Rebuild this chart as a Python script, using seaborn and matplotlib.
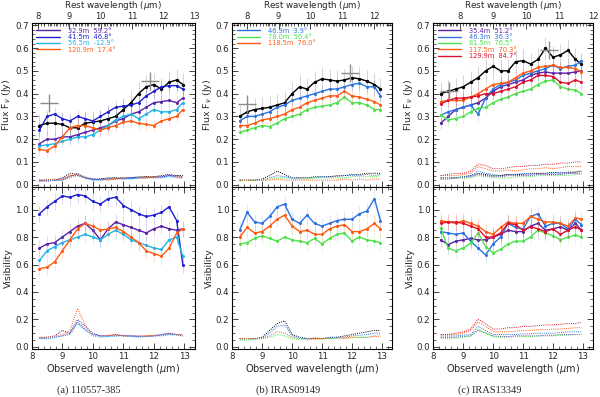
import matplotlib
matplotlib.use("Agg")
import matplotlib.pyplot as plt
import seaborn as sns
from matplotlib.lines import Line2D
from matplotlib.ticker import MultipleLocator

# observed wavelength grid (micron), shared by all panels
wl = [8.25, 8.5, 8.75, 9.0, 9.25, 9.5, 9.75, 10.0, 10.25, 10.5,
      10.75, 11.0, 11.25, 11.5, 11.75, 12.0, 12.25, 12.5, 12.75, 12.95]

# ---------------- panel (a) ----------------
a_flux_black = [0.26, 0.27, 0.27, 0.265, 0.25, 0.25, 0.27, 0.275, 0.28, 0.29,
                0.30, 0.33, 0.36, 0.40, 0.43, 0.44, 0.42, 0.45, 0.46, 0.44]
a_flux_purple = [0.18, 0.20, 0.20, 0.21, 0.21, 0.22, 0.23, 0.24, 0.25, 0.26,
                 0.28, 0.29, 0.31, 0.32, 0.34, 0.36, 0.365, 0.37, 0.36, 0.38]
a_flux_blue = [0.24, 0.30, 0.31, 0.29, 0.28, 0.30, 0.29, 0.28, 0.30, 0.32,
               0.34, 0.345, 0.35, 0.36, 0.39, 0.41, 0.43, 0.435, 0.435, 0.42]
a_flux_cyan = [0.17, 0.175, 0.18, 0.19, 0.20, 0.21, 0.21, 0.22, 0.24, 0.26,
               0.285, 0.30, 0.31, 0.29, 0.31, 0.33, 0.32, 0.32, 0.33, 0.36]
a_flux_orange = [0.155, 0.15, 0.17, 0.21, 0.25, 0.26, 0.26, 0.25, 0.24, 0.25,
                 0.26, 0.275, 0.28, 0.27, 0.265, 0.26, 0.28, 0.29, 0.30, 0.33]
a_fnoise_black = [0.02, 0.02, 0.02, 0.03, 0.05, 0.045, 0.03, 0.025, 0.025, 0.03,
                  0.03, 0.03, 0.03, 0.035, 0.035, 0.035, 0.04, 0.045, 0.04, 0.04]
a_fnoise_purple = [0.015, 0.02, 0.02, 0.025, 0.04, 0.04, 0.03, 0.02, 0.025, 0.025,
                   0.025, 0.03, 0.03, 0.03, 0.03, 0.035, 0.035, 0.04, 0.035, 0.03]
a_fnoise_blue = [0.02, 0.015, 0.02, 0.02, 0.035, 0.05, 0.03, 0.025, 0.02, 0.025,
                 0.03, 0.025, 0.03, 0.03, 0.035, 0.03, 0.035, 0.04, 0.04, 0.035]
a_fnoise_cyan = [0.015, 0.02, 0.02, 0.02, 0.03, 0.04, 0.03, 0.02, 0.02, 0.025,
                 0.025, 0.025, 0.025, 0.03, 0.03, 0.03, 0.03, 0.035, 0.03, 0.03]
a_fnoise_orange = [0.02, 0.02, 0.025, 0.02, 0.04, 0.045, 0.035, 0.025, 0.025, 0.02,
                   0.025, 0.03, 0.025, 0.03, 0.03, 0.035, 0.03, 0.04, 0.035, 0.03]
a_vis_purple = [0.72, 0.75, 0.76, 0.80, 0.84, 0.88, 0.90, 0.85, 0.78, 0.86,
                0.91, 0.89, 0.87, 0.85, 0.83, 0.86, 0.88, 0.86, 0.85, 0.86]
a_vis_blue = [0.97, 1.02, 1.06, 1.10, 1.09, 1.11, 1.10, 1.06, 1.04, 1.08,
              1.09, 1.03, 1.00, 0.97, 0.95, 0.96, 0.98, 1.02, 0.92, 0.60]
a_vis_cyan = [0.63, 0.70, 0.73, 0.76, 0.78, 0.80, 0.82, 0.80, 0.78, 0.82,
              0.85, 0.82, 0.78, 0.76, 0.74, 0.72, 0.71, 0.78, 0.80, 0.66]
a_vis_orange = [0.57, 0.58, 0.62, 0.70, 0.78, 0.86, 0.90, 0.88, 0.85, 0.86,
                0.87, 0.84, 0.80, 0.76, 0.70, 0.68, 0.66, 0.72, 0.83, 0.86]
a_vnoise_purple = [0.07, 0.06, 0.07, 0.08, 0.10, 0.18, 0.13, 0.09, 0.08, 0.08,
                   0.08, 0.085, 0.08, 0.08, 0.075, 0.08, 0.085, 0.09, 0.09, 0.08]
a_vnoise_blue = [0.06, 0.07, 0.08, 0.12, 0.10, 0.20, 0.15, 0.10, 0.08, 0.08,
                 0.09, 0.08, 0.08, 0.075, 0.08, 0.08, 0.09, 0.10, 0.09, 0.09]
a_vnoise_cyan = [0.06, 0.06, 0.07, 0.08, 0.09, 0.17, 0.12, 0.08, 0.07, 0.075,
                 0.08, 0.08, 0.075, 0.07, 0.075, 0.08, 0.08, 0.09, 0.085, 0.08]
a_vnoise_orange = [0.07, 0.07, 0.08, 0.09, 0.12, 0.28, 0.16, 0.09, 0.08, 0.085,
                   0.09, 0.08, 0.08, 0.08, 0.08, 0.085, 0.09, 0.10, 0.09, 0.08]
a_labels = ["32.9m  59.2°", "41.5m  46.8°", "56.5m  -12.9°", "120.9m  17.4°"]
a_cross_wl = [8.58, 11.89]
a_cross_flux = [0.358, 0.455]

# ---------------- panel (b) ----------------
b_flux_black = [0.30, 0.32, 0.33, 0.335, 0.34, 0.35, 0.36, 0.40, 0.43, 0.42,
                0.45, 0.465, 0.46, 0.455, 0.46, 0.47, 0.465, 0.455, 0.44, 0.42]
b_flux_blue = [0.28, 0.30, 0.30, 0.31, 0.32, 0.34, 0.35, 0.37, 0.38, 0.39,
               0.40, 0.41, 0.42, 0.42, 0.43, 0.44, 0.445, 0.43, 0.43, 0.39]
b_flux_green = [0.23, 0.24, 0.25, 0.26, 0.255, 0.27, 0.29, 0.30, 0.31, 0.33,
                0.34, 0.345, 0.35, 0.36, 0.385, 0.36, 0.36, 0.35, 0.33, 0.33]
b_flux_orange = [0.26, 0.26, 0.27, 0.285, 0.29, 0.30, 0.31, 0.33, 0.34, 0.36,
                 0.37, 0.38, 0.39, 0.39, 0.41, 0.39, 0.385, 0.375, 0.365, 0.35]
b_fnoise_black = [0.02, 0.02, 0.02, 0.025, 0.04, 0.06, 0.045, 0.03, 0.03, 0.03,
                  0.035, 0.035, 0.035, 0.04, 0.04, 0.045, 0.045, 0.05, 0.05, 0.05]
b_fnoise_blue = [0.02, 0.02, 0.02, 0.02, 0.03, 0.04, 0.035, 0.03, 0.03, 0.03,
                 0.03, 0.035, 0.035, 0.035, 0.04, 0.04, 0.04, 0.045, 0.04, 0.045]
b_fnoise_green = [0.015, 0.02, 0.02, 0.02, 0.025, 0.03, 0.03, 0.025, 0.025, 0.025,
                  0.03, 0.03, 0.03, 0.03, 0.03, 0.035, 0.035, 0.035, 0.035, 0.04]
b_fnoise_orange = [0.02, 0.02, 0.02, 0.02, 0.02, 0.025, 0.02, 0.02, 0.02, 0.02,
                   0.02, 0.02, 0.02, 0.02, 0.025, 0.02, 0.025, 0.02, 0.025, 0.025]
b_vis_blue = [0.85, 0.98, 0.91, 0.90, 0.95, 1.02, 1.04, 0.93, 0.90, 0.96,
              0.90, 0.88, 0.90, 0.92, 0.93, 0.93, 0.97, 0.99, 1.08, 0.92]
b_vis_green = [0.75, 0.76, 0.79, 0.81, 0.79, 0.77, 0.80, 0.78, 0.77, 0.76,
               0.79, 0.75, 0.79, 0.82, 0.83, 0.77, 0.80, 0.78, 0.77, 0.76]
b_vis_orange = [0.80, 0.87, 0.83, 0.84, 0.88, 0.93, 0.96, 0.88, 0.84, 0.85,
                0.82, 0.82, 0.86, 0.88, 0.89, 0.84, 0.84, 0.86, 0.90, 0.86]
b_vnoise_black = [0.06, 0.06, 0.06, 0.07, 0.12, 0.17, 0.19, 0.09, 0.07, 0.06,
                  0.065, 0.06, 0.07, 0.07, 0.08, 0.09, 0.10, 0.11, 0.12, 0.12]
b_vnoise_blue = [0.06, 0.06, 0.06, 0.065, 0.10, 0.15, 0.16, 0.08, 0.07, 0.06,
                 0.06, 0.06, 0.065, 0.07, 0.07, 0.08, 0.085, 0.09, 0.10, 0.10]
b_vnoise_green = [0.05, 0.05, 0.055, 0.06, 0.07, 0.09, 0.08, 0.06, 0.055, 0.05,
                  0.055, 0.06, 0.06, 0.06, 0.06, 0.065, 0.07, 0.07, 0.08, 0.09]
b_vnoise_orange = [0.06, 0.06, 0.06, 0.06, 0.08, 0.11, 0.10, 0.07, 0.06, 0.06,
                   0.06, 0.06, 0.06, 0.065, 0.065, 0.07, 0.07, 0.07, 0.075, 0.075]
b_labels = ["46.9m  3.9°", "78.0m  56.4°", "118.5m  76.0°"]
b_cross_wl = [8.5, 11.93]
b_cross_flux = [0.355, 0.49]

# ---------------- panel (c) ----------------
c_flux_black = [0.40, 0.41, 0.42, 0.43, 0.45, 0.47, 0.50, 0.52, 0.50, 0.50,
                0.54, 0.545, 0.53, 0.55, 0.60, 0.56, 0.57, 0.59, 0.55, 0.53]
c_flux_purple = [0.27, 0.30, 0.33, 0.34, 0.35, 0.36, 0.38, 0.41, 0.43, 0.44,
                 0.45, 0.46, 0.48, 0.49, 0.495, 0.49, 0.49, 0.49, 0.495, 0.50]
c_flux_blue = [0.305, 0.32, 0.33, 0.34, 0.35, 0.31, 0.38, 0.42, 0.44, 0.45,
               0.46, 0.48, 0.49, 0.50, 0.51, 0.525, 0.51, 0.52, 0.525, 0.545]
c_flux_green = [0.305, 0.285, 0.29, 0.30, 0.32, 0.335, 0.34, 0.36, 0.375, 0.385,
                0.40, 0.41, 0.42, 0.44, 0.455, 0.46, 0.43, 0.42, 0.415, 0.40]
c_flux_orange = [0.365, 0.37, 0.37, 0.37, 0.385, 0.40, 0.42, 0.44, 0.445, 0.45,
                 0.47, 0.49, 0.50, 0.515, 0.52, 0.525, 0.515, 0.515, 0.51, 0.495]
c_flux_red = [0.355, 0.37, 0.38, 0.38, 0.385, 0.39, 0.40, 0.40, 0.41, 0.42,
              0.43, 0.45, 0.46, 0.48, 0.48, 0.475, 0.45, 0.445, 0.46, 0.45]
c_fnoise_black = [0.03, 0.03, 0.03, 0.035, 0.04, 0.05, 0.045, 0.04, 0.04, 0.045,
                  0.045, 0.045, 0.05, 0.05, 0.05, 0.055, 0.05, 0.055, 0.055, 0.06]
c_fnoise_purple = [0.025, 0.025, 0.03, 0.03, 0.035, 0.045, 0.04, 0.035, 0.035, 0.04,
                   0.04, 0.04, 0.04, 0.045, 0.045, 0.045, 0.045, 0.05, 0.05, 0.05]
c_fnoise_blue = [0.03, 0.03, 0.03, 0.035, 0.04, 0.06, 0.05, 0.045, 0.04, 0.045,
                 0.045, 0.05, 0.045, 0.05, 0.05, 0.05, 0.055, 0.05, 0.055, 0.06]
c_fnoise_green = [0.025, 0.03, 0.03, 0.03, 0.03, 0.04, 0.035, 0.03, 0.03, 0.03,
                  0.035, 0.035, 0.035, 0.04, 0.04, 0.04, 0.04, 0.04, 0.045, 0.045]
c_fnoise_orange = [0.04, 0.04, 0.04, 0.045, 0.05, 0.08, 0.07, 0.06, 0.06, 0.065,
                   0.06, 0.065, 0.07, 0.07, 0.075, 0.07, 0.075, 0.08, 0.08, 0.08]
c_fnoise_red = [0.04, 0.045, 0.05, 0.05, 0.06, 0.09, 0.085, 0.07, 0.07, 0.075,
                0.08, 0.08, 0.085, 0.085, 0.09, 0.09, 0.095, 0.095, 0.10, 0.10]
c_vis_purple = [0.78, 0.745, 0.77, 0.78, 0.79, 0.78, 0.78, 0.80, 0.82, 0.85,
                0.84, 0.84, 0.88, 0.90, 0.85, 0.86, 0.875, 0.85, 0.90, 0.85]
c_vis_blue = [0.84, 0.83, 0.82, 0.83, 0.77, 0.72, 0.67, 0.75, 0.80, 0.90,
              0.87, 0.86, 0.95, 0.97, 0.88, 0.90, 0.90, 0.86, 0.93, 0.89]
c_vis_green = [0.865, 0.72, 0.70, 0.72, 0.755, 0.83, 0.73, 0.685, 0.71, 0.75,
               0.77, 0.77, 0.80, 0.85, 0.83, 0.81, 0.78, 0.80, 0.815, 0.80]
c_vis_orange = [0.92, 0.91, 0.90, 0.92, 0.90, 0.88, 0.84, 0.82, 0.87, 0.91,
                0.90, 0.90, 0.95, 0.93, 0.91, 0.91, 0.90, 0.88, 0.94, 0.93]
c_vis_red = [0.90, 0.91, 0.91, 0.90, 0.88, 0.86, 0.80, 0.80, 0.83, 0.90,
             0.89, 0.85, 0.875, 0.86, 0.84, 0.86, 0.82, 0.85, 0.875, 0.85]
c_vnoise_purple = [0.07, 0.07, 0.07, 0.075, 0.08, 0.12, 0.10, 0.08, 0.075, 0.075,
                   0.08, 0.08, 0.08, 0.08, 0.085, 0.085, 0.09, 0.09, 0.09, 0.09]
c_vnoise_blue = [0.08, 0.08, 0.08, 0.085, 0.09, 0.15, 0.12, 0.09, 0.09, 0.09,
                 0.09, 0.095, 0.095, 0.10, 0.10, 0.10, 0.105, 0.11, 0.11, 0.11]
c_vnoise_green = [0.06, 0.06, 0.065, 0.07, 0.08, 0.13, 0.10, 0.075, 0.07, 0.07,
                  0.075, 0.075, 0.075, 0.08, 0.08, 0.08, 0.085, 0.085, 0.09, 0.09]
c_vnoise_orange = [0.09, 0.09, 0.09, 0.10, 0.12, 0.18, 0.15, 0.11, 0.11, 0.11,
                   0.115, 0.12, 0.12, 0.125, 0.125, 0.13, 0.13, 0.135, 0.14, 0.14]
c_vnoise_red = [0.09, 0.09, 0.10, 0.11, 0.13, 0.20, 0.17, 0.13, 0.13, 0.14,
                0.14, 0.15, 0.15, 0.155, 0.16, 0.16, 0.165, 0.17, 0.17, 0.18]
c_labels = ["35.4m  51.2°", "46.3m  36.3°", "81.5m  76.5°", "117.5m  70.3°", "129.9m  84.7°"]
c_cross_wl = [8.53, 11.87]
c_cross_flux = [0.41, 0.59]

PURPLE = "#5b22a8"
DBLUE = "#1f1fd0"
CYAN = "#22b4e6"
ORANGE = "#ff5a14"
BLUE = "#2a72e0"
GREEN = "#4ee24e"
RED = "#e0102c"

panels = [
    dict(left=0.053, width=0.272, z1=1.026, rest_ticks=[8, 9, 10, 11, 12, 13],
         caption="(a) 110557-385",
         black=(a_flux_black, a_fnoise_black),
         series=[(PURPLE, a_flux_purple, a_fnoise_purple, a_vis_purple, a_vnoise_purple),
                 (DBLUE, a_flux_blue, a_fnoise_blue, a_vis_blue, a_vnoise_blue),
                 (CYAN, a_flux_cyan, a_fnoise_cyan, a_vis_cyan, a_vnoise_cyan),
                 (ORANGE, a_flux_orange, a_fnoise_orange, a_vis_orange, a_vnoise_orange)],
         vis_black=None, labels=a_labels, cross=(a_cross_wl, a_cross_flux)),
    dict(left=0.387, width=0.267, z1=1.061, rest_ticks=[8, 9, 10, 11, 12],
         caption="(b) IRAS09149",
         black=(b_flux_black, b_fnoise_black),
         series=[(BLUE, b_flux_blue, b_fnoise_blue, b_vis_blue, b_vnoise_blue),
                 (GREEN, b_flux_green, b_fnoise_green, b_vis_green, b_vnoise_green),
                 (ORANGE, b_flux_orange, b_fnoise_orange, b_vis_orange, b_vnoise_orange)],
         vis_black=b_vnoise_black, labels=b_labels, cross=(b_cross_wl, b_cross_flux)),
    dict(left=0.722, width=0.267, z1=1.111, rest_ticks=[8, 9, 10, 11, 12],
         caption="(c) IRAS13349",
         black=(c_flux_black, c_fnoise_black),
         series=[(PURPLE, c_flux_purple, c_fnoise_purple, c_vis_purple, c_vnoise_purple),
                 (BLUE, c_flux_blue, c_fnoise_blue, c_vis_blue, c_vnoise_blue),
                 (GREEN, c_flux_green, c_fnoise_green, c_vis_green, c_vnoise_green),
                 (ORANGE, c_flux_orange, c_fnoise_orange, c_vis_orange, c_vnoise_orange),
                 (RED, c_flux_red, c_fnoise_red, c_vis_red, c_vnoise_red)],
         vis_black=None, labels=c_labels, cross=(c_cross_wl, c_cross_flux)),
]

sns.set_style("ticks")
plt.rcParams["font.family"] = ["DejaVu Sans"]
plt.rcParams["xtick.direction"] = "in"
plt.rcParams["ytick.direction"] = "in"

fig = plt.figure(figsize=(6, 3.97), dpi=100)


def curve(ax, y, color, err, ms=2.2, lw=1.0):
    # faint error bars then the dotted-looking curve
    ax.errorbar(wl, y, yerr=err, fmt="none", ecolor=color, alpha=0.2, lw=0.6)
    sns.lineplot(x=wl, y=y, ax=ax, color=color, lw=lw, marker="o",
                 markersize=ms, markeredgewidth=0, legend=False)


def noise(ax, y, color):
    sns.lineplot(x=wl, y=y, ax=ax, color=color, lw=0.7, linestyle=(0, (1, 1.2)), legend=False)


def style(ax, ymajor, yminor):
    ax.set_xlim(8, 13.35)
    ax.xaxis.set_major_locator(MultipleLocator(1))
    ax.xaxis.set_minor_locator(MultipleLocator(0.2))
    ax.yaxis.set_major_locator(MultipleLocator(ymajor))
    ax.yaxis.set_minor_locator(MultipleLocator(yminor))
    ax.tick_params(which="both", top=True, right=True, labelsize=6.2, pad=2)
    ax.tick_params(which="major", length=4, width=0.6)
    ax.tick_params(which="minor", length=2, width=0.5)
    for s in ax.spines.values():
        s.set_linewidth(0.8)
        s.set_color("black")


for p in panels:
    axf = fig.add_axes([p["left"], 0.529, p["width"], 0.413])
    axv = fig.add_axes([p["left"], 0.121, p["width"], 0.408])

    # flux panel
    flux_black, fnoise_black = p["black"]
    curve(axf, flux_black, "black", 0.05, ms=2.4)
    for color, flux, fnoise, vis, vnoise in p["series"]:
        curve(axf, flux, color, 0.03)
    noise(axf, fnoise_black, "black")
    for color, flux, fnoise, vis, vnoise in p["series"]:
        noise(axf, fnoise, color)
    axf.plot(p["cross"][0], p["cross"][1], linestyle="none", marker="+",
             markersize=13, markeredgewidth=1.0, color="#8c8c8c")
    style(axf, 0.1, 0.02)
    axf.set_ylim(-0.01, 0.71)
    axf.tick_params(labelbottom=False, top=False)
    axf.set_ylabel("Flux F$_\\nu$ (Jy)", fontsize=6.8)
    axf.yaxis.set_label_coords(-0.115, 0.5)
    axf.set_xlabel("")

    z1 = p["z1"]
    sec = axf.secondary_xaxis("top", functions=(lambda x, z1=z1: x / z1,
                                                lambda x, z1=z1: x * z1))
    sec.set_xticks(p["rest_ticks"])
    sec.xaxis.set_minor_locator(MultipleLocator(0.1))
    sec.tick_params(which="both", direction="in", labelsize=6, pad=1.5)
    sec.tick_params(which="major", length=4, width=0.6)
    sec.tick_params(which="minor", length=2, width=0.5)
    fig.text(p["left"] + p["width"] / 2, 1 - 5 / 397, "Rest wavelength ($\\mu$m)",
             ha="center", va="center", fontsize=6.3)

    handles = [Line2D([0], [0], color=s[0], lw=1.0) for s in p["series"]]
    axf.legend(handles, p["labels"], loc="upper left", fontsize=4.8, frameon=False,
               handlelength=3.5, handletextpad=1.2, labelspacing=0.05,
               borderaxespad=0.3, labelcolor="linecolor")

    # visibility panel
    for color, flux, fnoise, vis, vnoise in p["series"]:
        curve(axv, vis, color, 0.06)
    if p["vis_black"] is not None:
        noise(axv, p["vis_black"], "black")
    for color, flux, fnoise, vis, vnoise in p["series"]:
        noise(axv, vnoise, color)
    style(axv, 0.2, 0.05)
    axv.set_ylim(-0.015, 1.165)
    axv.set_ylabel("Visibility", fontsize=6.8)
    axv.yaxis.set_label_coords(-0.115, 0.5)
    axv.set_xlabel("Observed wavelength ($\\mu$m)", fontsize=7, labelpad=1)

    fig.text(p["left"] + p["width"] * 0.35, 1 - 390 / 397, p["caption"],
             ha="center", va="center", fontsize=7.5, family="Liberation Serif")

fig.savefig("out.png", dpi=100)
